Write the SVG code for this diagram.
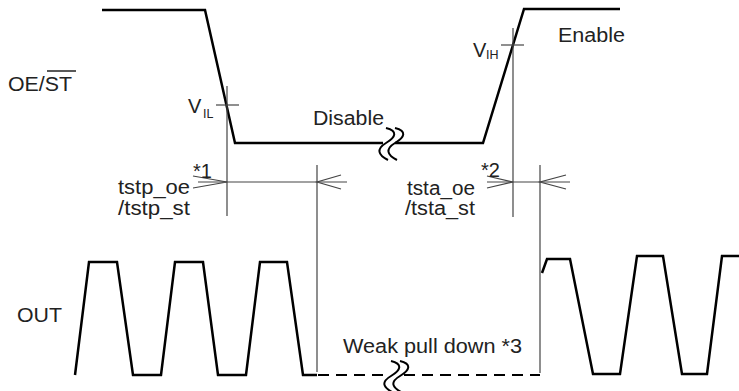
<svg xmlns="http://www.w3.org/2000/svg" width="739" height="391" viewBox="0 0 739 391">
<style>
.sig{fill:none;stroke:#000;stroke-width:2.5;stroke-linejoin:miter}
.dim{fill:none;stroke:#444;stroke-width:1.2}
.sq{fill:none;stroke:#000;stroke-width:2}
.dash{fill:none;stroke:#000;stroke-width:2.2;stroke-dasharray:11 7}
text{font-family:"Liberation Sans",Arial,sans-serif;font-size:20px;fill:#222}
.sub{font-size:12.5px}
</style>
<rect width="739" height="391" fill="#fff"/>
<g id="labels">
<text x="8" y="91" textLength="64" lengthAdjust="spacingAndGlyphs">OE/ST</text>
<line x1="47" y1="71" x2="76" y2="71" stroke="#222" stroke-width="1.5"/>
<text x="17" y="322" textLength="45" lengthAdjust="spacingAndGlyphs">OUT</text>
</g>
<g id="oe-signal">
<polyline class="sig" points="102,10 205,10 235,143 383,143"/>
<polyline class="sig" points="395,143 483,143 524,9 620,9"/>
<path class="sq" d="M386 128 C398 131 396 137 386 143 C376 149 378 155 388 160"/>
<path class="sq" d="M395 128 C407 131 405 137 395 143 C385 149 387 155 397 160"/>
<text x="313" y="125" textLength="71" lengthAdjust="spacingAndGlyphs">Disable</text>
<text x="558" y="42" textLength="67" lengthAdjust="spacingAndGlyphs">Enable</text>
</g>
<g id="vil">
<line class="dim" x1="227" y1="86" x2="227" y2="216"/>
<line class="dim" x1="216" y1="105" x2="239" y2="105"/>
<text x="188" y="113" font-size="18">V</text>
<text x="203" y="118" class="sub">IL</text>
</g>
<g id="vih">
<line class="dim" x1="513" y1="28" x2="513" y2="217"/>
<line class="dim" x1="501" y1="45" x2="524" y2="45"/>
<text x="473" y="57" font-size="18">V</text>
<text x="486" y="59" class="sub">IH</text>
</g>
<g id="connectors">
<line class="dim" x1="317" y1="165" x2="317" y2="372"/>
<line class="dim" x1="540" y1="165" x2="540" y2="373"/>
<line class="dim" x1="198" y1="182" x2="347" y2="182"/>
<polyline class="dim" points="193,176 227,182 193,188"/>
<polyline class="dim" points="341,175 317,182 341,189"/>
<line class="dim" x1="487" y1="182" x2="570" y2="182"/>
<polyline class="dim" points="487,176 513,182 487,188"/>
<polyline class="dim" points="566,175 540,182 566,189"/>
</g>
<g id="timing-labels">
<text x="193" y="178" font-size="18">*1</text>
<text x="118" y="194" textLength="72" lengthAdjust="spacingAndGlyphs">tstp_oe</text>
<text x="118" y="215" textLength="72" lengthAdjust="spacingAndGlyphs">/tstp_st</text>
<text x="481" y="177" font-size="18">*2</text>
<text x="407" y="195" textLength="68" lengthAdjust="spacingAndGlyphs">tsta_oe</text>
<text x="405" y="215" textLength="70" lengthAdjust="spacingAndGlyphs">/tsta_st</text>
</g>
<g id="out-signal">
<polyline class="sig" points="75,375 89,262 117,262 133,375 161,375 175,262 203,262 218,375 246,375 260,262 287,262 303,375 317,375"/>
<line class="dash" x1="318" y1="375" x2="385" y2="375"/>
<line class="dash" x1="404" y1="375" x2="540" y2="375"/>
<path class="sq" d="M391 361 C403 364 401 370 391 376 C381 382 383 387 392 392"/>
<path class="sq" d="M400 361 C412 364 410 370 400 376 C390 382 392 387 401 392"/>
<polyline class="sig" points="542,273 547,259 570,259 593,374 620,374 637,256 663,256 682,374 707,374 722,256 739,256"/>
<text x="343" y="353" textLength="179" lengthAdjust="spacingAndGlyphs">Weak pull down *3</text>
</g>
</svg>
